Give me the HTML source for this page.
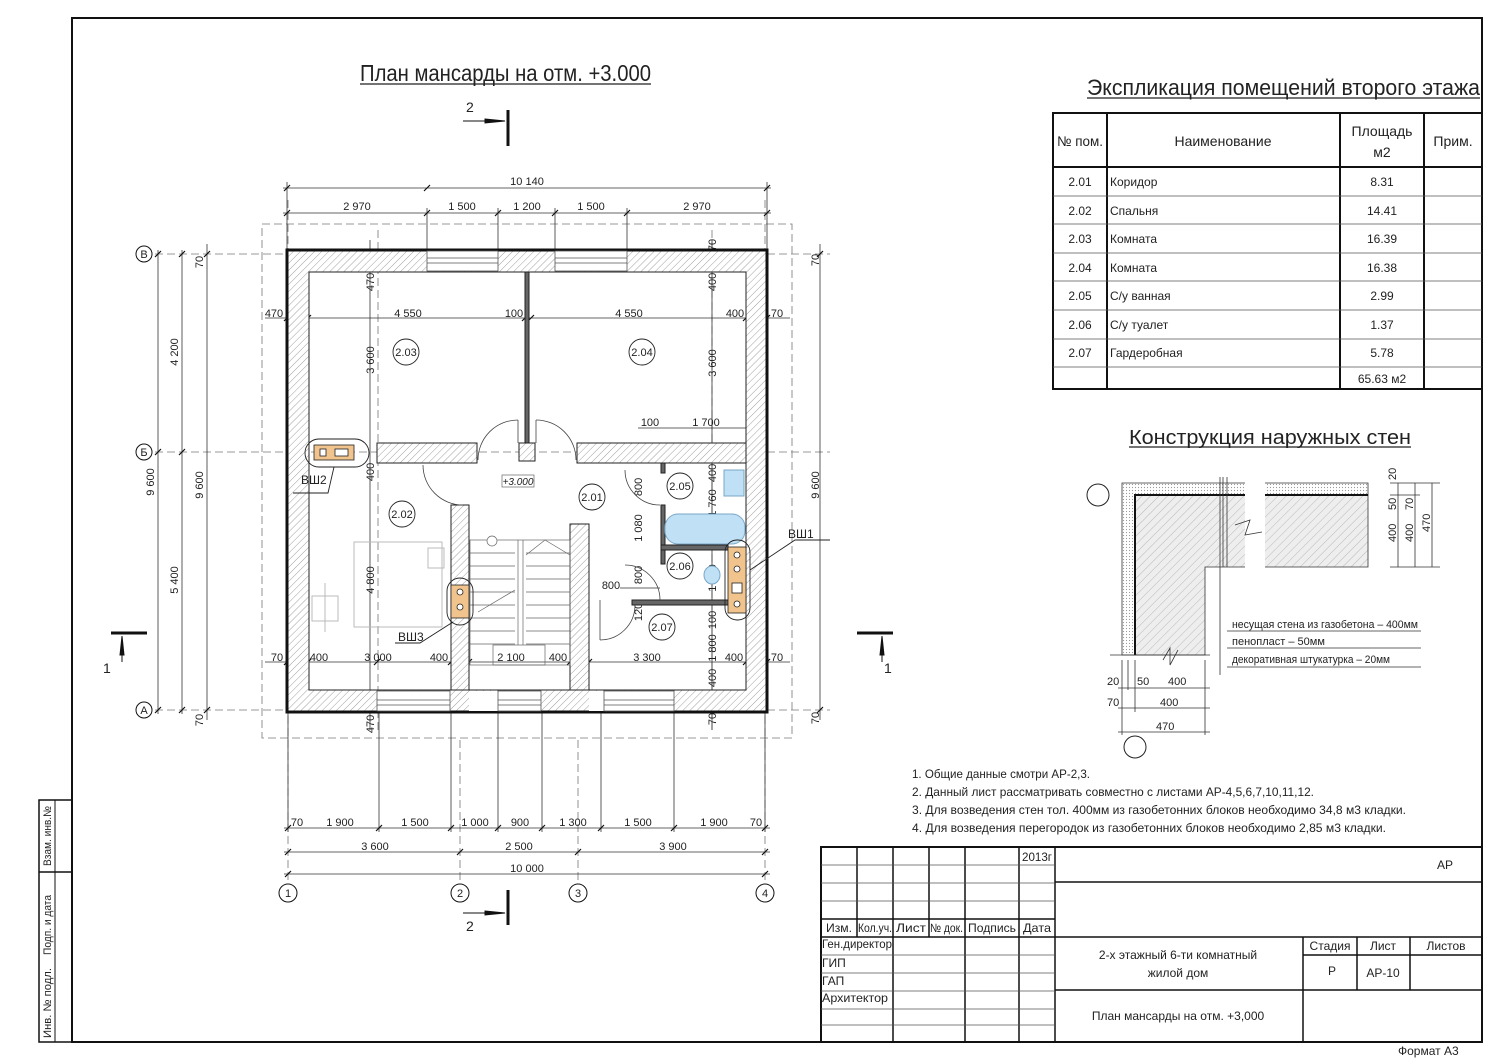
<!DOCTYPE html>
<html><head><meta charset="utf-8"><style>
html,body{margin:0;padding:0;background:#fff}
svg{display:block}
text{font-family:"Liberation Sans Narrow","Liberation Sans",sans-serif;fill:#222}
</style></head><body>
<svg width="1500" height="1061" viewBox="0 0 1500 1061" xmlns="http://www.w3.org/2000/svg">
<defs>
<pattern id="h" width="5" height="5" patternUnits="userSpaceOnUse" patternTransform="rotate(45)">
<rect width="5" height="5" fill="#fff"/><line x1="0" y1="0" x2="0" y2="5" stroke="#888" stroke-width="0.8"/></pattern>
<pattern id="h2" width="6" height="6" patternUnits="userSpaceOnUse" patternTransform="rotate(45)">
<rect width="6" height="6" fill="#eee"/><line x1="0" y1="0" x2="0" y2="6" stroke="#aaa" stroke-width="0.8"/></pattern>
<pattern id="dots" width="3" height="3" patternUnits="userSpaceOnUse"><rect width="3" height="3" fill="#fff"/><circle cx="1.5" cy="1.5" r="0.6" fill="#999"/></pattern>
</defs>

<!-- frame -->
<rect x="72" y="18" width="1410" height="1024" fill="none" stroke="#111" stroke-width="2"/>
<rect x="39" y="800" width="33" height="242" fill="none" stroke="#111" stroke-width="1.5"/>
<line x1="39" y1="872" x2="72" y2="872" stroke="#111" stroke-width="1.5"/>
<line x1="55" y1="800" x2="55" y2="1042" stroke="#111" stroke-width="1"/>
<text transform="translate(51,866) rotate(-90)" font-size="11" textLength="60" lengthAdjust="spacingAndGlyphs">Взам. инв.№</text>
<text transform="translate(51,955) rotate(-90)" font-size="11" textLength="60" lengthAdjust="spacingAndGlyphs">Подп. и дата</text>
<text transform="translate(51,1038) rotate(-90)" font-size="11" textLength="70" lengthAdjust="spacingAndGlyphs">Инв. № подл.</text>

<!-- title -->
<text x="360" y="81" font-size="23" textLength="291" lengthAdjust="spacingAndGlyphs">План мансарды на отм. +3.000</text>
<line x1="360" y1="84" x2="651" y2="84" stroke="#222" stroke-width="1.3"/>

<!-- section marks -->
<g stroke="#111">
<line x1="463" y1="121" x2="490" y2="121" stroke-width="1"/><polygon points="485,119 505,121 485,123" fill="#111"/>
<line x1="508" y1="110" x2="508" y2="146" stroke-width="3"/>
<line x1="463" y1="913" x2="490" y2="913" stroke-width="1"/><polygon points="485,911 505,913 485,915" fill="#111"/>
<line x1="508" y1="890" x2="508" y2="925" stroke-width="3"/>
<line x1="111" y1="633" x2="147" y2="633" stroke-width="3"/><line x1="122" y1="636" x2="122" y2="662" stroke-width="1"/><polygon points="120,655 122,636 124,655" fill="#111"/>
<line x1="857" y1="633" x2="893" y2="633" stroke-width="3"/><line x1="882" y1="636" x2="882" y2="662" stroke-width="1"/><polygon points="880,655 882,636 884,655" fill="#111"/>
</g>
<text x="466" y="112" font-size="14" font-family="Liberation Sans">2</text>
<text x="466" y="931" font-size="14" font-family="Liberation Sans">2</text>
<text x="103" y="673" font-size="14" font-family="Liberation Sans">1</text>
<text x="884" y="673" font-size="14" font-family="Liberation Sans">1</text>

<!-- dashed outline & axes -->
<g stroke="#777" stroke-width="0.8" stroke-dasharray="8,4" fill="none">
<rect x="262" y="224" width="530" height="514"/>
<line x1="155" y1="254" x2="830" y2="254"/><line x1="155" y1="452" x2="830" y2="452"/><line x1="155" y1="710" x2="830" y2="710"/>
<line x1="288" y1="200" x2="288" y2="880"/><line x1="460" y1="740" x2="460" y2="880"/><line x1="578" y1="740" x2="578" y2="880"/><line x1="765" y1="200" x2="765" y2="880"/>
<line x1="378" y1="230" x2="378" y2="730"/><line x1="712" y1="230" x2="712" y2="730"/>
</g>
<g fill="#fff" stroke="#111" stroke-width="1">
<circle cx="144" cy="254" r="8"/><circle cx="144" cy="452" r="8"/><circle cx="144" cy="710" r="8"/>
<circle cx="288" cy="893" r="9"/><circle cx="460" cy="893" r="9"/><circle cx="578" cy="893" r="9"/><circle cx="765" cy="893" r="9"/>
</g>
<g font-size="11" text-anchor="middle" font-family="Liberation Sans">
<text x="144" y="258">В</text><text x="144" y="456">Б</text><text x="144" y="714">А</text>
<text x="288" y="897">1</text><text x="460" y="897">2</text><text x="578" y="897">3</text><text x="765" y="897">4</text>
</g>

<!-- dimension lines -->
<g stroke="#333" stroke-width="0.8" fill="none">
<line x1="283" y1="188" x2="771" y2="188"/><line x1="283" y1="213" x2="771" y2="213"/>
<line x1="287" y1="182" x2="287" y2="250"/><line x1="767" y1="182" x2="767" y2="250"/>
<line x1="427" y1="208" x2="427" y2="250"/><line x1="498" y1="208" x2="498" y2="250"/><line x1="555" y1="208" x2="555" y2="250"/><line x1="627" y1="208" x2="627" y2="250"/>
<line x1="158" y1="250" x2="158" y2="714"/><line x1="182" y1="250" x2="182" y2="714"/><line x1="207" y1="244" x2="207" y2="720"/>
<line x1="820" y1="244" x2="820" y2="720"/><line x1="712" y1="240" x2="712" y2="730"/><line x1="370" y1="240" x2="370" y2="730"/>
<line x1="265" y1="318" x2="790" y2="318"/><line x1="265" y1="662" x2="790" y2="662"/>
<line x1="284" y1="828" x2="770" y2="828"/><line x1="284" y1="852" x2="770" y2="852"/><line x1="284" y1="874" x2="770" y2="874"/>
<line x1="288" y1="712" x2="288" y2="832"/><line x1="379" y1="712" x2="379" y2="832"/><line x1="451" y1="712" x2="451" y2="832"/><line x1="498" y1="712" x2="498" y2="832"/><line x1="542" y1="712" x2="542" y2="832"/><line x1="601" y1="712" x2="601" y2="832"/><line x1="674" y1="712" x2="674" y2="832"/><line x1="765" y1="712" x2="765" y2="832"/>
<line x1="638" y1="428" x2="746" y2="428"/>
<line x1="660" y1="588" x2="620" y2="588"/>
</g>
<g stroke="#111" stroke-width="1.2">
<path d="M284 191l6-6M424 191l6-6M764 191l6-6M284 216l6-6M424 216l6-6M495 216l6-6M552 216l6-6M624 216l6-6M764 216l6-6"/>
<path d="M155 257l6-6M179 257l6-6M204 257l6-6M155 455l6-6M179 455l6-6M155 713l6-6M179 713l6-6M204 713l6-6M817 257l6-6M817 713l6-6"/>
<path d="M285 831l6-6M376 831l6-6M448 831l6-6M495 831l6-6M539 831l6-6M598 831l6-6M671 831l6-6M762 831l6-6M285 855l6-6M457 855l6-6M575 855l6-6M762 855l6-6M285 877l6-6M762 877l6-6"/>
<path d="M284 321l6-6M305 321l6-6M522 321l6-6M528 321l6-6M743 321l6-6M764 321l6-6M284 665l6-6M305 665l6-6M374 665l6-6M448 665l6-6M466 665l6-6M567 665l6-6M586 665l6-6M743 665l6-6M764 665l6-6"/>
</g>
<g font-size="11" text-anchor="middle">
<text x="527" y="185">10 140</text>
<text x="357" y="210">2 970</text><text x="462" y="210">1 500</text><text x="527" y="210">1 200</text><text x="591" y="210">1 500</text><text x="697" y="210">2 970</text>
<text x="274" y="317">470</text><text x="408" y="317">4 550</text><text x="514" y="317">100</text><text x="629" y="317">4 550</text><text x="735" y="317">400</text><text x="777" y="317">70</text>
<text x="277" y="661">70</text><text x="319" y="661">400</text><text x="378" y="661">3 000</text><text x="439" y="661">400</text><text x="511" y="661">2 100</text><text x="558" y="661">400</text><text x="647" y="661">3 300</text><text x="734" y="661">400</text><text x="777" y="661">70</text>
<text x="297" y="826">70</text><text x="340" y="826">1 900</text><text x="415" y="826">1 500</text><text x="475" y="826">1 000</text><text x="520" y="826">900</text><text x="573" y="826">1 300</text><text x="638" y="826">1 500</text><text x="714" y="826">1 900</text><text x="756" y="826">70</text>
<text x="375" y="850">3 600</text><text x="519" y="850">2 500</text><text x="673" y="850">3 900</text>
<text x="527" y="872">10 000</text>
<text x="650" y="426">100</text><text x="706" y="426">1 700</text>
<text x="611" y="589">800</text><text x="580" y="589">100</text>
</g>
<g font-size="11" text-anchor="middle">
<text transform="translate(154,482) rotate(-90)">9 600</text>
<text transform="translate(178,352) rotate(-90)">4 200</text>
<text transform="translate(178,580) rotate(-90)">5 400</text>
<text transform="translate(203,485) rotate(-90)">9 600</text>
<text transform="translate(203,262) rotate(-90)">70</text><text transform="translate(203,720) rotate(-90)">70</text>
<text transform="translate(819,485) rotate(-90)">9 600</text>
<text transform="translate(819,260) rotate(-90)">70</text><text transform="translate(819,718) rotate(-90)">70</text>
<text transform="translate(374,282) rotate(-90)">470</text><text transform="translate(374,360) rotate(-90)">3 600</text><text transform="translate(374,472) rotate(-90)">400</text><text transform="translate(374,580) rotate(-90)">4 800</text><text transform="translate(374,724) rotate(-90)">470</text>
<text transform="translate(716,245) rotate(-90)">70</text><text transform="translate(716,282) rotate(-90)">400</text><text transform="translate(716,363) rotate(-90)">3 600</text><text transform="translate(716,473) rotate(-90)">400</text><text transform="translate(716,503) rotate(-90)">1 760</text><text transform="translate(716,532) rotate(-90)">100</text><text transform="translate(716,578) rotate(-90)">1 040</text><text transform="translate(716,620) rotate(-90)">100</text><text transform="translate(716,648) rotate(-90)">1 800</text><text transform="translate(716,678) rotate(-90)">400</text><text transform="translate(716,719) rotate(-90)">70</text>
<text transform="translate(642,487) rotate(-90)">800</text><text transform="translate(642,528) rotate(-90)">1 080</text><text transform="translate(642,575) rotate(-90)">800</text><text transform="translate(642,612) rotate(-90)">120</text>
</g>

<!-- building walls -->
<g stroke="#222" stroke-width="1" fill="url(#h)">
<path d="M287 250H767V712H287Z M309 272V690H746V272Z" fill-rule="evenodd"/>
<rect x="377" y="443" width="100" height="20"/>
<rect x="577" y="443" width="169" height="20"/>
<rect x="525" y="272" width="4" height="171" fill="#666"/>
<rect x="519" y="443" width="16" height="18"/>
<rect x="451" y="505" width="18" height="185"/>
<rect x="570" y="524" width="19" height="166"/>
<rect x="661" y="505" width="4" height="42" fill="#666"/>
<rect x="661" y="463" width="4" height="10" fill="#666"/>
<rect x="661" y="545" width="67" height="5" fill="#666"/>
<rect x="661" y="550" width="4" height="14" fill="#666"/>
<rect x="632" y="600" width="96" height="5" fill="#666"/>
</g>
<rect x="287" y="250" width="480" height="462" fill="none" stroke="#111" stroke-width="3"/>
<!-- windows -->
<g fill="#fff" stroke="#555" stroke-width="0.8">
<rect x="427" y="251" width="71" height="20"/><line x1="427" y1="258" x2="498" y2="258"/><line x1="427" y1="263" x2="498" y2="263"/>
<rect x="555" y="251" width="72" height="20"/><line x1="555" y1="258" x2="627" y2="258"/><line x1="555" y1="263" x2="627" y2="263"/>
<rect x="377" y="691" width="73" height="20"/><line x1="377" y1="700" x2="450" y2="700"/><line x1="377" y1="705" x2="450" y2="705"/>
<rect x="469" y="691" width="29" height="20" stroke="none"/>
<rect x="498" y="691" width="43" height="20"/><line x1="498" y1="700" x2="541" y2="700"/><line x1="498" y1="705" x2="541" y2="705"/>
<rect x="589" y="691" width="15" height="20" stroke="none"/>
<rect x="604" y="691" width="70" height="20"/><line x1="604" y1="700" x2="674" y2="700"/><line x1="604" y1="705" x2="674" y2="705"/>
</g>
<!-- doors -->
<g fill="none" stroke="#444" stroke-width="0.8">
<path d="M518 420A40 40 0 0 0 478 460"/><line x1="518" y1="420" x2="518" y2="443"/>
<path d="M536 420A40 40 0 0 1 576 460"/><line x1="536" y1="420" x2="536" y2="443"/>
<path d="M423 465A40 40 0 0 0 463 505"/>
<path d="M625 470A35 35 0 0 0 660 505"/>
<path d="M625 565A35 35 0 0 1 660 600"/>
<path d="M600 640A35 35 0 0 0 635 605"/><line x1="600" y1="600" x2="600" y2="640"/>
</g>
<!-- stairs -->
<g fill="none" stroke="#666" stroke-width="0.7">
<rect x="470" y="540" width="100" height="125"/>
<line x1="518" y1="540" x2="518" y2="645"/><line x1="523" y1="540" x2="523" y2="645"/>
<path d="M470 553H515M470 566H515M470 579H515M470 592H515M470 605H515M470 618H515M470 631H515M470 644H515"/>
<path d="M526 553H570M526 566H570M526 579H570M526 592H570M526 605H570M526 618H570M526 631H570M526 644H570"/>
<path d="M478 612L515 590M526 555L545 540L570 555"/>
<circle cx="492" cy="541" r="5" fill="#fff"/>
<rect x="493" y="645" width="52" height="20"/>
</g>
<!-- furniture -->
<g fill="none" stroke="#bbb" stroke-width="1">
<rect x="354" y="542" width="88" height="85"/><rect x="312" y="596" width="26" height="25"/><line x1="325" y1="583" x2="325" y2="632"/>
<rect x="428" y="548" width="16" height="20"/>
</g>
<g fill="#bfe0f5" stroke="#7aa7c6" stroke-width="1">
<rect x="724" y="470" width="20" height="26"/>
<rect x="665" y="514" width="80" height="30" rx="13"/>
<ellipse cx="712" cy="575" rx="8" ry="9"/>
</g>
<!-- vent shafts -->
<g stroke="#222" stroke-width="0.8">
<rect x="314" y="445" width="40" height="15" fill="#f0c48c"/>
<rect x="451" y="585" width="18" height="33" fill="#f0c48c"/>
<rect x="728" y="547" width="18" height="66" fill="#f0c48c"/>
<rect x="320" y="449" width="6" height="7" fill="#fff"/><rect x="335" y="449" width="13" height="7" fill="#fff"/>
<circle cx="460" cy="592" r="3" fill="#fff"/><circle cx="460" cy="607" r="3" fill="#fff"/>
<circle cx="737" cy="555" r="3" fill="#fff"/><circle cx="737" cy="569" r="3" fill="#fff"/><rect x="732" y="583" width="10" height="10" fill="#fff"/><circle cx="737" cy="604" r="3" fill="#fff"/>
</g>
<g fill="none" stroke="#222" stroke-width="0.9">
<rect x="305" y="439" width="64" height="28" rx="14"/>
<rect x="447" y="578" width="26" height="47" rx="13"/>
<rect x="725" y="540" width="25" height="80" rx="12"/>
<path d="M334 467L328 493H293"/><path d="M453 622L420 643H395"/><path d="M750 570L795 540H830"/>
</g>
<text x="301" y="484" font-size="12">ВШ2</text>
<text x="398" y="641" font-size="12">ВШ3</text>
<text x="788" y="538" font-size="12">ВШ1</text>
<!-- room tags -->
<g fill="#fff" stroke="#222" stroke-width="0.9">
<circle cx="406" cy="352" r="13"/><circle cx="642" cy="352" r="13"/><circle cx="402" cy="514" r="13"/><circle cx="592" cy="497" r="13"/><circle cx="680" cy="486" r="13"/><circle cx="680" cy="566" r="13"/><circle cx="662" cy="627" r="13"/>
</g>
<g font-size="11" text-anchor="middle">
<text x="406" y="356">2.03</text><text x="642" y="356">2.04</text><text x="402" y="518">2.02</text><text x="592" y="501">2.01</text><text x="680" y="490">2.05</text><text x="680" y="570">2.06</text><text x="662" y="631">2.07</text>
</g>
<rect x="502" y="475" width="32" height="12" fill="none" stroke="#666" stroke-width="0.7"/>
<text x="518" y="485" font-size="10" text-anchor="middle" font-style="italic">+3.000</text>

<!-- explication -->
<text x="1087" y="95" font-size="22" textLength="393" lengthAdjust="spacingAndGlyphs">Экспликация помещений второго этажа</text>
<line x1="1087" y1="98" x2="1480" y2="98" stroke="#222" stroke-width="1.3"/>
<g stroke="#111" fill="none">
<rect x="1053" y="113" width="429" height="276" stroke-width="2"/>
<line x1="1053" y1="167" x2="1482" y2="167" stroke-width="2"/>
<line x1="1107" y1="113" x2="1107" y2="389" stroke-width="2"/><line x1="1340" y1="113" x2="1340" y2="389" stroke-width="2"/><line x1="1424" y1="113" x2="1424" y2="389" stroke-width="2"/>
<path d="M1053 196H1482M1053 224H1482M1053 253H1482M1053 281H1482M1053 310H1482M1053 339H1482M1053 367H1482" stroke-width="0.8" stroke="#555"/>
</g>
<g font-size="14">
<text x="1080" y="146" text-anchor="middle" textLength="46" lengthAdjust="spacingAndGlyphs">№ пом.</text><text x="1223" y="146" text-anchor="middle">Наименование</text>
<text x="1382" y="136" text-anchor="middle">Площадь</text><text x="1382" y="157" text-anchor="middle">м2</text><text x="1453" y="146" text-anchor="middle">Прим.</text>
</g>
<g font-size="12">
<g text-anchor="middle"><text x="1080" y="186">2.01</text><text x="1080" y="215">2.02</text><text x="1080" y="243">2.03</text><text x="1080" y="272">2.04</text><text x="1080" y="300">2.05</text><text x="1080" y="329">2.06</text><text x="1080" y="357">2.07</text>
<text x="1382" y="186">8.31</text><text x="1382" y="215">14.41</text><text x="1382" y="243">16.39</text><text x="1382" y="272">16.38</text><text x="1382" y="300">2.99</text><text x="1382" y="329">1.37</text><text x="1382" y="357">5.78</text><text x="1382" y="383">65.63 м2</text></g>
<text x="1110" y="186">Коридор</text><text x="1110" y="215">Спальня</text><text x="1110" y="243">Комната</text><text x="1110" y="272">Комната</text><text x="1110" y="300">С/у ванная</text><text x="1110" y="329">С/у туалет</text><text x="1110" y="357">Гардеробная</text>
</g>

<!-- wall construction -->
<text x="1129" y="444" font-size="20" textLength="282" lengthAdjust="spacingAndGlyphs">Конструкция наружных стен</text>
<line x1="1129" y1="447" x2="1411" y2="447" stroke="#222" stroke-width="1.3"/>
<g stroke="#333" stroke-width="0.8">
<path d="M1122 655V483H1368V495H1135V655Z" fill="url(#dots)"/>
<path d="M1135 655V495H1368V567H1205V655Z" fill="url(#h2)"/>
<path d="M1135 655V495H1368" fill="none" stroke="#111" stroke-width="2"/>
<rect x="1245" y="480" width="20" height="92" fill="#fff" stroke="none"/>
<path d="M1235 525L1250 520L1245 535L1262 532" fill="none"/>
<path d="M1220 477V675M1223 477V567M1227 477V567" fill="none"/>
<path d="M1110 655H1210M1163 660L1170 648L1170 665L1178 650" fill="none"/>
<path d="M1227 631H1421M1227 648H1421M1227 667H1421" fill="none"/>
<path d="M1122 660V735M1128 660V690M1135 660V712M1205 660V735M1118 688H1210M1118 708H1210M1118 732H1210" fill="none"/>
<path d="M1390 483H1440M1390 495H1420M1390 567H1440M1398 483V567M1415 483V567M1432 483V567" fill="none"/>
</g>
<circle cx="1098" cy="495" r="11" fill="#fff" stroke="#222"/>
<circle cx="1135" cy="747" r="11" fill="#fff" stroke="#222"/>
<g font-size="11">
<text x="1232" y="628" textLength="186" lengthAdjust="spacingAndGlyphs">несущая стена из газобетона – 400мм</text>
<text x="1232" y="645">пенопласт – 50мм</text>
<text x="1232" y="663" textLength="158" lengthAdjust="spacingAndGlyphs">декоративная штукатурка – 20мм</text>
<text x="1107" y="685">20</text><text x="1137" y="685">50</text><text x="1168" y="685">400</text>
<text x="1107" y="706">70</text><text x="1160" y="706">400</text><text x="1156" y="730">470</text>
<text transform="translate(1396,542) rotate(-90)">400</text><text transform="translate(1396,510) rotate(-90)">50</text><text transform="translate(1396,480) rotate(-90)">20</text>
<text transform="translate(1413,542) rotate(-90)">400</text><text transform="translate(1413,510) rotate(-90)">70</text><text transform="translate(1430,532) rotate(-90)">470</text>
</g>

<!-- notes -->
<g font-size="12">
<text x="912" y="778" textLength="178" lengthAdjust="spacingAndGlyphs">1. Общие данные смотри АР-2,3.</text>
<text x="912" y="796" textLength="402" lengthAdjust="spacingAndGlyphs">2. Данный лист рассматривать совместно с листами АР-4,5,6,7,10,11,12.</text>
<text x="912" y="814" textLength="494" lengthAdjust="spacingAndGlyphs">3. Для возведения стен тол. 400мм из газобетонних блоков необходимо 34,8 м3 кладки.</text>
<text x="912" y="832" textLength="474" lengthAdjust="spacingAndGlyphs">4. Для возведения перегородок  из газобетонних блоков необходимо 2,85 м3 кладки.</text>
</g>

<!-- title block -->
<g stroke="#111" fill="none">
<rect x="821" y="847" width="661" height="195" stroke-width="2"/>
<path d="M857 847V937M893 847V1042M929 847V937M965 847V1042M1019 847V1042M1055 847V1042" stroke-width="1.5"/>
<path d="M821 919H1055M821 937H1482M1055 882H1482M1055 990H1482M1303 937V1042M1357 937V990M1410 937V990M1303 955H1482" stroke-width="1.5"/>
<path d="M821 865H1055M821 883H1055M821 901H1055M821 955H1055M821 973H1055M821 991H1055M821 1009H1055M821 1025H1055" stroke-width="0.8" stroke="#555"/>
</g>
<g font-size="12">
<text x="1022" y="861" textLength="30" lengthAdjust="spacingAndGlyphs">2013г</text><text x="1437" y="869">АР</text>
<text x="826" y="932" textLength="26" lengthAdjust="spacingAndGlyphs">Изм.</text><text x="858" y="932" textLength="34" lengthAdjust="spacingAndGlyphs">Кол.уч.</text><text x="896" y="932" textLength="30" lengthAdjust="spacingAndGlyphs">Лист</text><text x="930" y="932" textLength="33" lengthAdjust="spacingAndGlyphs">№ док.</text><text x="968" y="932" textLength="48" lengthAdjust="spacingAndGlyphs">Подпись</text><text x="1023" y="932" textLength="28" lengthAdjust="spacingAndGlyphs">Дата</text>
<text x="822" y="948" textLength="70" lengthAdjust="spacingAndGlyphs">Ген.директор</text><text x="822" y="967">ГИП</text><text x="822" y="985">ГАП</text><text x="822" y="1002" textLength="66" lengthAdjust="spacingAndGlyphs">Архитектор</text>
<text x="1178" y="959" text-anchor="middle">2-х этажный 6-ти комнатный</text><text x="1178" y="977" text-anchor="middle">жилой дом</text>
<text x="1178" y="1020" text-anchor="middle">План мансарды на отм. +3,000</text>
<text x="1330" y="950" text-anchor="middle">Стадия</text><text x="1383" y="950" text-anchor="middle">Лист</text><text x="1446" y="950" text-anchor="middle">Листов</text>
<text x="1332" y="975" text-anchor="middle">Р</text><text x="1383" y="977" text-anchor="middle">АР-10</text>
<text x="1398" y="1055">Формат А3</text>
</g>
</svg>
</body></html>
